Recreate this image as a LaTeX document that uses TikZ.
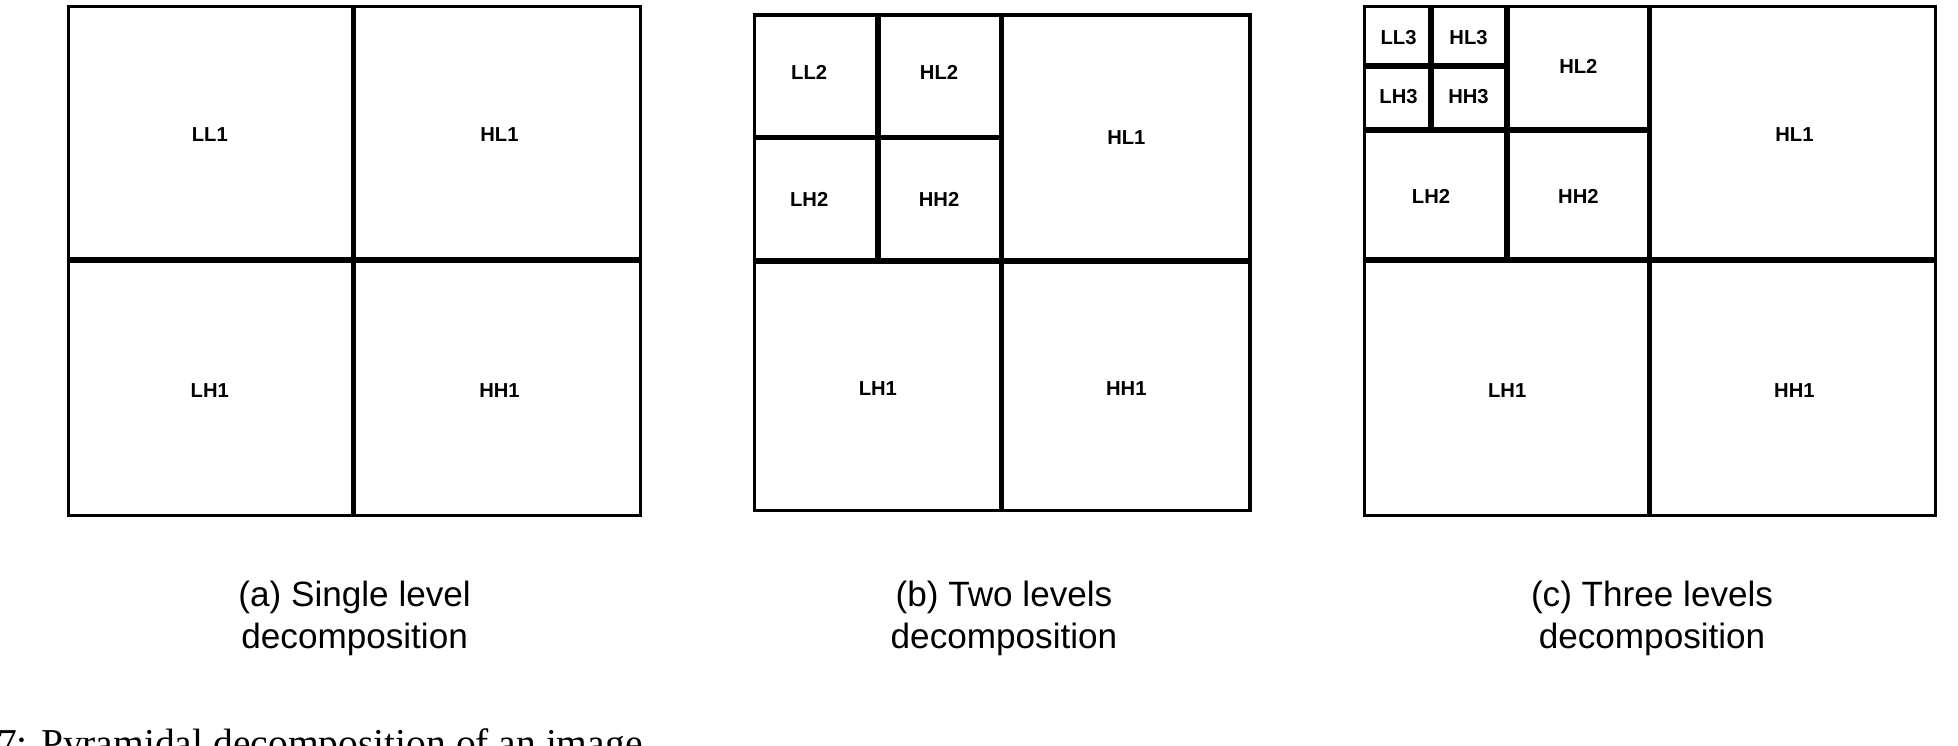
\documentclass[tikz,border=0pt]{standalone}
\usepackage{fontspec}
\setmainfont{Liberation Sans}
\newfontfamily\capfont{Liberation Serif}
\begin{document}
\begin{tikzpicture}
      [x = 0.01cm, y = -0.01cm,
      frame/.style= {line width = 0.7pt},
      split/.style= {line width = 1.3pt},
      band/.style= {font = \fontsize{4.6}{5}\selectfont\bfseries},
      caption/.style= {font = \fontsize{8}{9.6}\selectfont, align = center}]
      \useasboundingbox (0, 0) rectangle (1568, 597);
      \clip (0, 0) rectangle (1568, 597);

      % (a) single level
      \draw[frame] (55, 5) rectangle (513, 413);
      \draw[split] (283, 5) -- (283, 413);
      \draw[split] (55, 208) -- (513, 208);
      \node[band] (aLL1) at (168, 108) {LL1};
      \node[band] (aHL1) at (400, 108) {HL1};
      \node[band] (aLH1) at (168, 313) {LH1};
      \node[band] (aHH1) at (400, 313) {HH1};
      \node[caption] (capa) at (284, 495) {(a) Single level\\decomposition};

      % (b) two levels
      \draw[frame] (604, 12) rectangle (1001, 409);
      \draw[split] (802, 12) -- (802, 409);
      \draw[split] (604, 209) -- (1001, 209);
      \draw[split] (703, 12) -- (703, 209);
      \draw[split] (604, 110) -- (802, 110);
      \node[band] (bLL2) at (648, 58) {LL2};
      \node[band] (bHL2) at (752, 58) {HL2};
      \node[band] (bLH2) at (648, 160) {LH2};
      \node[band] (bHH2) at (752, 160) {HH2};
      \node[band] (bHL1) at (902, 110) {HL1};
      \node[band] (bLH1) at (703, 311) {LH1};
      \node[band] (bHH1) at (902, 311) {HH1};
      \node[caption] (capb) at (804, 495) {(b) Two levels\\decomposition};

      % (c) three levels
      \draw[frame] (1093, 5) rectangle (1550, 413);
      \draw[split] (1321, 5) -- (1321, 413);
      \draw[split] (1093, 208) -- (1550, 208);
      \draw[split] (1207, 5) -- (1207, 208);
      \draw[split] (1093, 104) -- (1321, 104);
      \draw[split] (1146, 5) -- (1146, 104);
      \draw[split] (1093, 53) -- (1207, 53);
      \node[band] (cLL3) at (1120, 30) {LL3};
      \node[band] (cHL3) at (1176, 30) {HL3};
      \node[band] (cLH3) at (1120, 77) {LH3};
      \node[band] (cHH3) at (1176, 77) {HH3};
      \node[band] (cHL2) at (1264, 53) {HL2};
      \node[band] (cLH2) at (1146, 157) {LH2};
      \node[band] (cHH2) at (1264, 157) {HH2};
      \node[band] (cHL1) at (1437, 108) {HL1};
      \node[band] (cLH1) at (1207, 313) {LH1};
      \node[band] (cHH1) at (1437, 313) {HH1};
      \node[caption] (capc) at (1323, 495) {(c) Three levels\\decomposition};

      \node[anchor = base west, inner sep = 0pt,
         font = \capfont\fontsize{9}{10}\selectfont] (fig) at (-3, 606)
         {7: Pyramidal decomposition of an image};
   \end{tikzpicture}
\end{document}
